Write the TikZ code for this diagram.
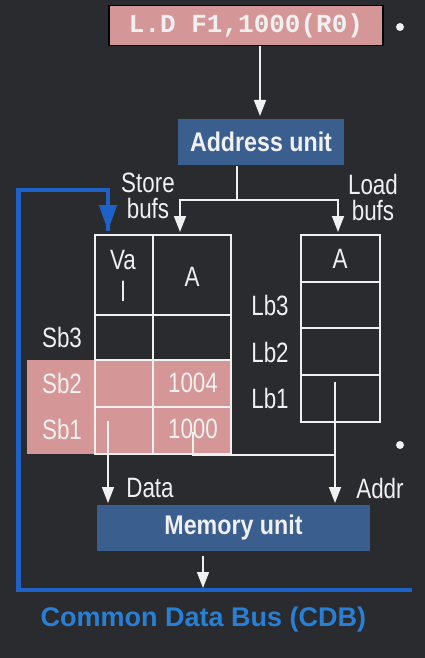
\documentclass[tikz,border=0pt]{standalone}
\usepackage{fontspec}
\setmainfont{Liberation Sans}
\newfontfamily\narrowfont[FakeStretch=0.8]{Liberation Sans}
\newfontfamily\unitfont[FakeStretch=0.86]{Liberation Sans}
\newfontfamily\insfont{Liberation Mono}
\usetikzlibrary{arrows.meta}
\definecolor{bg}{RGB}{42,43,47}
\definecolor{pinkc}{RGB}{213,150,151}
\definecolor{unitblue}{RGB}{58,94,142}
\definecolor{busblue}{RGB}{30,98,200}
\definecolor{cdbtext}{RGB}{40,128,214}
\definecolor{fg}{RGB}{240,240,240}
\begin{document}
\begin{tikzpicture}[x=1pt,y=-1pt,
  lbl/.style={text=fg,font=\narrowfont\fontsize{28}{26}\selectfont,inner sep=0pt,align=center},
  unitbox/.style={fill=unitblue,text=fg,inner sep=0pt,font=\unitfont\bfseries\fontsize{27}{28}\selectfont,minimum height=46pt},
  wire/.style={draw=fg,line width=1.6pt},
  warrow/.style={wire,-{Triangle[width=12pt,length=16pt]}},
  bus/.style={draw=busblue,line width=4.5pt,line join=miter},
  cell/.style={draw=fg,line width=1.5pt}]
\fill[bg] (0,0) rectangle (425,658);
\useasboundingbox (0,0) rectangle (425,658);

% instruction
\node[draw=black,line width=1.5pt,fill=pinkc,minimum width=274pt,minimum height=40pt,inner sep=0pt,
  text=fg,font=\insfont\bfseries\fontsize{26}{28}\selectfont] (ins) at (246,25.5) {L.D F1,1000(R0)};
\fill[fg] (400,27) circle (4pt);
\fill[fg] (400,445) circle (4pt);

% address unit
\node[unitbox,minimum width=166pt] (au) at (261,142) {Address unit};
\coordinate (insout) at (260,46);
\coordinate (auin) at (260,116);
\draw[warrow] (insout) -- (auin);

\coordinate (auout) at (237,166);
\coordinate (split) at (237,200);
\coordinate (sbin) at (180,232);
\coordinate (lbin) at (338,232);
\draw[warrow] (auout) |- (sbin |- split) -- (sbin);
\draw[warrow] (split) -| (lbin);

\node[lbl] (storelbl) at (148,196) {Store\\bufs};
\node[lbl] (loadlbl) at (373,197) {Load\\bufs};

% store buffers
\fill[pinkc] (27,360) rectangle (231,454);
\draw[cell] (95,235) rectangle (231,454);
\draw[cell] (153,235) -- (153,454);
\foreach \yy in {315,360,407} \draw[cell] (95,\yy) -- (231,\yy);
\node[lbl,font=\narrowfont\fontsize{28}{32}\selectfont] (val) at (123,276) {Va\\l};
\node[lbl] (sa) at (192,277) {A};
\node[lbl] (sb3) at (62,337) {Sb3};
\node[lbl] (sb2) at (62,383) {Sb2};
\node[lbl] (sb1) at (62,429) {Sb1};
\node[lbl] (a1004) at (193,383) {1004};
\node[lbl] (a1000) at (193,429) {1000};

% load buffers
\draw[cell] (301,235) rectangle (380,422);
\foreach \yy in {282,328,375} \draw[cell] (301,\yy) -- (380,\yy);
\node[lbl] (la) at (340,259) {A};
\node[lbl] (lb3) at (270,305) {Lb3};
\node[lbl] (lb2) at (270,352) {Lb2};
\node[lbl] (lb1) at (270,398) {Lb1};

% memory unit
\node[unitbox,minimum width=273pt] (mu) at (233.5,528) {Memory unit};

\coordinate (dstart) at (108,421);
\coordinate (dend) at (108,503);
\draw[warrow] (dstart) -- (dend);
\node[lbl] (datalbl) at (150,488) {Data};

\coordinate (astart) at (193,432);
\coordinate (lbstart) at (335,382);
\coordinate (aend) at (335,503);
\draw[wire] (astart) |- (335,455);
\draw[warrow] (lbstart) -- (aend);
\node[lbl] (addrlbl) at (380,488) {Addr};

% CDB
\coordinate (muout) at (203,556);
\coordinate (busin) at (203,588);
\draw[warrow] (muout) -- (busin);
\coordinate (busr) at (412,590);
\coordinate (busl) at (18.5,590);
\coordinate (bustl) at (18.5,190);
\coordinate (bustr) at (108,190);
\coordinate (busend) at (108,231);
\draw[bus] (busr) -- (busl) -- (bustl) -- (bustr) -- (busend);
\draw[busblue,line width=4.5pt,-{Triangle[width=17pt,length=26pt]}] (108,200) -- (busend);
\node[text=cdbtext,font=\bfseries\fontsize{27}{29}\selectfont,inner sep=0pt] (cdb) at (203.5,620) {Common Data Bus (CDB)};
\end{tikzpicture}
\end{document}
